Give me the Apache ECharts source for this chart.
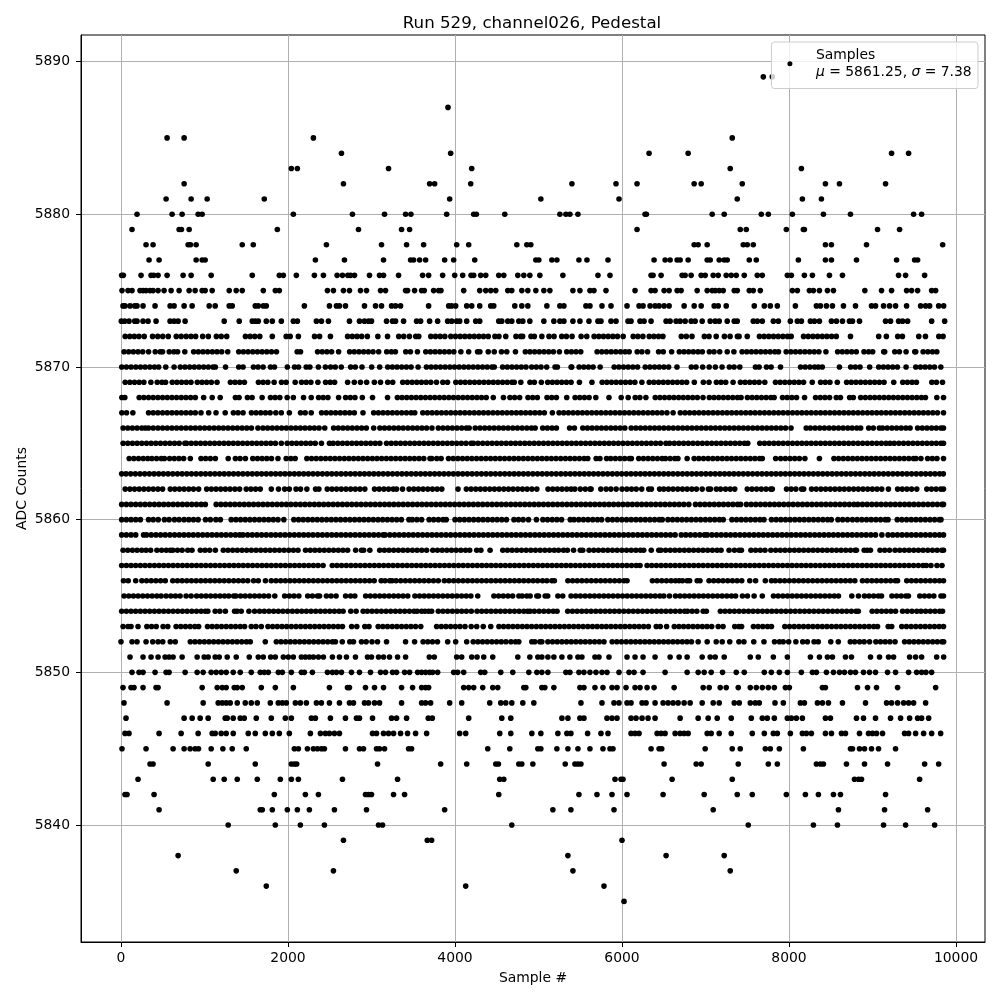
<!DOCTYPE html>
<html><head><meta charset="utf-8">
<style>html,body{margin:0;padding:0;background:#fff}#c{width:1000px;height:1000px}</style>
<script src="https://cdn.jsdelivr.net/npm/echarts@6/dist/echarts.min.js"></script>
</head><body><div id="c"></div>
<script>
const titleText = 'Run 529, channel026, Pedestal';
const xName = 'Sample #';
const yName = 'ADC Counts';
const seriesName = 'Samples';
const xTicks = [0,2000,4000,6000,8000,10000];
const yTicks = [5840,5850,5860,5870,5880,5890];

const y5889=[7692,7800];
const y5887=[3916];
const y5885=[552,756,2304,7320];
const y5884=[2640,3948,6324,6792,9228,9432];
const y5883=[2040,2112,3204,4200,7296,8148];
const y5882=[756,2664,3696,3756,4188,5400,5928,6180,6864,6948,7440,8436,8604,9156];
const y5881=[540,840,1032,1716,3936,5028,5964,7380,8160,8388];
const y5880=[192,612,732,924,972,2064,2772,3156,3408,3472,3900,4224,4256,4596,5256,5328,5376,5472,6276,6292,7080,7224,7668,7752,8040,8412,8736,9492,9588];
const y5879=[132,696,724,816,1872,2844,3360,3456,6180,7416,7488,7968,8172,8184,9060,9324];
const y5878=[300,384,804,832,900,1452,1584,2460,3120,3420,3624,4020,4164,4740,4860,4908,6864,6912,7020,7452,7500,7572,8436,8508,8928,9840];
const y5877=[336,456,900,972,1008,2328,2676,3144,3468,3504,3576,3648,3876,3984,4236,4968,5004,5160,5220,5484,5580,5832,6384,6516,6576,6660,6696,6792,7020,7056,7164,7224,7260,7524,7608,8112,8436,8508,8808,9288,9504,9540];
const y5876=[8,28,240,360,392,444,552,744,840,1080,1572,1896,1944,2100,2316,2424,2588,2652,2716,2748,2796,2976,3096,3144,3324,3612,3684,3852,3996,4092,4192,4224,4308,4368,4524,4584,4752,4824,4896,5016,5292,5712,5856,6348,6372,6468,6720,6756,6828,6948,6996,7092,7152,7248,7308,7368,7464,7620,7680,7980,8028,8184,8280,8484,8640,9312,9396,9624];
const y5875=[12,84,132,228,264,300,348,384,444,516,600,696,816,888,972,1008,1092,1296,1380,1452,1704,1848,1896,2472,2544,2664,2736,2868,2940,3108,3168,3408,3432,3516,3600,3632,3744,3804,3832,4104,4296,4368,4428,4488,4632,4680,4800,4872,4968,5064,5136,5412,5496,5616,5664,5808,6156,6348,6396,6504,6564,6660,6708,6900,7020,7080,7116,7164,7212,7344,7380,7524,7572,7656,8040,8100,8244,8292,8364,8460,8532,8908,9108,9228,9408,9468,9540,9708,9756];
const y5874=[24,48,108,164,192,264,408,588,636,756,852,1056,1128,1296,1332,1608,1644,1704,1740,2196,2496,2580,2616,2688,2916,3048,3120,3240,3288,3348,3684,3924,3960,4008,4140,4200,4296,4428,4464,4716,4800,4872,5100,5256,5304,5568,5616,5760,5868,6060,6204,6252,6336,6396,6444,6504,6564,6744,6864,6948,7104,7152,7248,7584,7704,7776,7860,8076,8328,8376,8448,8520,8652,8796,8988,9036,9132,9204,9276,9408,9576,9636,9684,9792,9852];
const y5873=[4,44,96,164,192,264,324,420,588,636,684,768,1236,1416,1572,1608,1644,1740,1812,1920,2064,2112,2340,2400,2484,2736,2856,2916,2964,3000,3180,3252,3288,3384,3540,3588,3696,3792,3912,3960,4020,4056,4140,4248,4296,4524,4560,4632,4680,4764,4812,4896,5064,5184,5256,5304,5412,5496,5604,5712,5748,5868,5928,6072,6108,6216,6264,6348,6528,6576,6648,6696,6756,6828,6876,6960,7056,7116,7164,7260,7344,7380,7572,7620,7680,7812,7872,8016,8100,8148,8256,8304,8364,8508,8568,8640,8724,8760,8844,9156,9216,9312,9360,9420,9708,9864];
const y5872=[50,105,160,215,278,378,440,500,566,662,720,780,838,894,978,1046,1142,1200,1266,1490,1546,1602,1662,1812,1978,2026,2124,2318,2378,2508,2714,2770,2826,2882,2950,3076,3192,3326,3386,3454,3530,3566,3710,3766,3822,3878,3950,4006,4062,4118,4174,4230,4286,4342,4398,4478,4526,4608,4730,4786,4810,4910,4950,5040,5126,5186,5278,5334,5402,5510,5578,5666,5722,5778,5834,5890,5946,6014,6134,6190,6250,6326,6382,6438,6490,6710,6770,6838,6986,7042,7128,7226,7294,7382,7402,7500,7646,7702,7758,7814,7870,7926,7982,8026,8174,8230,8286,8342,8398,8454,8510,8566,8736,9074,9166,9302,9358,9554,9634,9794,9845];
const y5871=[37,92,148,204,260,330,410,470,498,578,634,678,764,870,926,982,1038,1094,1150,1206,1278,1410,1466,1522,1578,1634,1690,1746,1802,1862,2110,2150,2354,2410,2466,2522,2606,2738,2794,2850,2906,2962,3018,3086,3182,3238,3286,3410,3466,3550,3650,3706,3762,3818,3874,3930,3986,4070,4164,4270,4298,4398,4470,4556,4620,4724,4842,4898,4954,5010,5066,5122,5178,5250,5338,5394,5450,5506,5702,5758,5814,5870,5926,5982,6038,6086,6182,6238,6306,6438,6494,6594,6686,6742,6798,6854,6910,6962,7046,7102,7170,7260,7340,7438,7494,7550,7606,7662,7718,7774,7830,7874,7966,8022,8078,8134,8190,8246,8302,8358,8442,8582,8638,8694,8750,8806,8898,8954,9002,9134,9146,9266,9322,9402,9506,9518,9606,9662,9718,9770];
const y5870=[9,65,121,177,233,289,345,401,451,536,636,710,766,822,878,934,990,1046,1102,1130,1252,1410,1462,1586,1642,1702,1790,1838,1992,2078,2126,2218,2262,2364,2448,2510,2566,2638,2750,2806,2886,3002,3098,3194,3250,3306,3362,3418,3474,3558,3658,3714,3770,3826,3882,3938,3994,4050,4106,4162,4218,4274,4330,4386,4442,4470,4570,4626,4682,4738,4794,4850,4918,4974,5030,5098,5198,5226,5390,5398,5486,5542,5598,5654,5738,5906,5962,6018,6074,6130,6186,6278,6334,6390,6446,6502,6558,6658,6830,6886,6966,7044,7118,7198,7286,7342,7410,7598,7642,7730,7786,7898,8138,8194,8250,8306,8350,8398,8604,8738,8794,8850,8966,9074,9130,9186,9242,9298,9402,9518,9574,9630,9686,9742,9818];
const y5869=[50,106,162,218,274,358,434,490,534,614,670,726,782,838,914,970,1026,1082,1150,1310,1366,1422,1478,1646,1702,1758,1834,1922,1978,2086,2162,2218,2274,2358,2450,2506,2558,2714,2794,2868,2942,3034,3108,3194,3254,3374,3430,3486,3542,3598,3654,3710,3778,3854,3910,4010,4066,4122,4178,4234,4290,4346,4402,4458,4514,4570,4626,4682,4710,4788,4898,4950,5034,5110,5166,5222,5278,5334,5390,5490,5640,5762,5818,5874,5930,5986,6042,6098,6154,6238,6326,6382,6438,6494,6550,6606,6662,6718,6774,6866,6974,7042,7130,7186,7242,7330,7418,7474,7530,7586,7642,7710,7838,7894,7950,8006,8062,8118,8174,8278,8378,8434,8490,8578,8690,8746,8802,8858,8914,8970,9026,9082,9138,9254,9362,9418,9474,9526,9710,9766,9838];
const y5868=[10,46,218,274,330,386,442,498,554,610,666,722,778,834,890,990,1092,1188,1370,1414,1514,1570,1690,1790,1846,1902,1990,2064,2186,2278,2366,2422,2478,2606,2690,2746,2802,2890,3012,3192,3310,3366,3422,3478,3534,3590,3646,3702,3758,3814,3870,3926,3982,4038,4094,4150,4206,4262,4318,4374,4458,4580,4658,4714,4774,4874,4930,4986,5102,5158,5214,5338,5438,5494,5550,5606,5686,5844,5990,6074,6158,6214,6286,6398,6454,6510,6566,6622,6678,6734,6790,6846,6902,6970,7046,7102,7158,7214,7270,7326,7382,7426,7502,7558,7614,7670,7726,7782,7822,7922,7978,8034,8090,8186,8318,8374,8430,8486,8566,8616,8726,8770,8858,8914,8970,9026,9082,9138,9194,9250,9306,9362,9418,9474,9530,9586,9634,9770,9850];
const y5867=[10,66,142,330,386,442,498,554,610,666,722,778,834,890,958,1050,1138,1248,1346,1402,1462,1562,1618,1674,1730,1786,1854,1920,2016,2150,2206,2278,2402,2458,2514,2570,2626,2682,2738,2794,2898,3026,3082,3138,3194,3250,3306,3362,3418,3474,3518,3614,3670,3726,3782,3838,3894,3950,4006,4062,4118,4174,4230,4286,4342,4398,4454,4510,4566,4622,4678,4734,4790,4846,4902,4958,5014,5070,5166,5246,5302,5358,5414,5470,5526,5582,5638,5694,5750,5806,5862,5918,5974,6030,6086,6142,6198,6254,6310,6366,6422,6478,6538,6612,6698,6754,6810,6866,6922,6978,7034,7090,7146,7202,7258,7314,7370,7426,7482,7538,7594,7650,7706,7762,7818,7874,7930,7986,8042,8098,8154,8210,8266,8322,8378,8434,8490,8546,8602,8658,8714,8770,8826,8882,8938,8994,9050,9106,9162,9218,9274,9330,9386,9442,9498,9554,9610,9666,9722,9778,9850];
const y5866=[25,81,137,193,249,290,330,386,442,498,554,610,666,722,778,834,890,946,1002,1058,1114,1170,1226,1282,1338,1394,1450,1506,1562,1640,1700,1756,1812,1868,1924,1980,2036,2092,2148,2204,2260,2316,2372,2440,2546,2602,2658,2714,2770,2826,2882,2938,3026,3100,3156,3212,3268,3324,3380,3436,3492,3548,3604,3660,3724,3800,3856,3912,3968,4024,4080,4136,4170,4242,4300,4356,4412,4468,4524,4580,4636,4692,4748,4804,4860,4916,4960,5050,5106,5162,5214,5372,5430,5530,5586,5642,5698,5754,5810,5866,5922,5978,6034,6110,6166,6222,6278,6334,6390,6446,6502,6558,6614,6670,6726,6782,6838,6894,6950,7006,7062,7118,7174,7230,7286,7342,7398,7454,7510,7566,7622,7678,7734,7790,7846,7902,7958,8024,8206,8256,8312,8368,8424,8480,8536,8592,8648,8704,8756,8812,8858,8954,9010,9082,9120,9176,9232,9288,9344,9400,9450,9540,9596,9652,9708,9764,9820,9850];
const y5865=[25,81,137,193,249,305,361,417,473,529,585,641,697,765,785,841,897,953,1009,1065,1121,1177,1233,1289,1345,1401,1457,1513,1569,1625,1681,1737,1793,1849,1920,1990,2046,2102,2158,2214,2270,2326,2400,2496,2541,2597,2653,2709,2765,2821,2877,2933,2989,3045,3100,3180,3236,3292,3348,3404,3460,3516,3572,3628,3684,3740,3796,3852,3908,3964,4020,4076,4132,4192,4220,4276,4332,4388,4444,4500,4556,4612,4668,4724,4780,4836,4892,4948,5004,5060,5116,5172,5228,5284,5340,5396,5452,5508,5564,5620,5676,5732,5788,5844,5900,5956,6012,6068,6124,6180,6236,6292,6348,6404,6460,6526,6570,6626,6682,6738,6794,6850,6906,6962,7018,7074,7130,7186,7242,7298,7354,7410,7466,7506,7650,7706,7762,7818,7874,7930,7986,8042,8098,8154,8210,8266,8322,8378,8434,8490,8546,8602,8658,8714,8770,8826,8882,8938,8994,9050,9106,9162,9210,9260,9316,9372,9428,9484,9540,9596,9652,9708,9764,9820,9850];
const y5864=[98,154,210,266,320,370,426,482,520,582,638,694,750,830,958,1014,1070,1130,1284,1370,1426,1490,1578,1634,1690,1746,1802,1880,1978,2034,2086,2226,2282,2338,2394,2450,2506,2562,2618,2674,2730,2786,2842,2898,2954,3010,3066,3122,3178,3234,3290,3346,3402,3458,3514,3570,3626,3700,3722,3782,3834,3922,3978,4034,4090,4146,4202,4258,4314,4370,4426,4482,4538,4594,4650,4706,4762,4818,4874,4930,4986,5042,5098,5154,5210,5266,5322,5378,5434,5490,5546,5590,5690,5736,5815,5864,5920,5976,6032,6088,6112,6200,6256,6312,6368,6424,6480,6520,6576,6632,6670,6780,6864,6920,6976,7032,7088,7144,7200,7256,7312,7368,7424,7480,7536,7592,7648,7680,7840,7900,7956,8012,8068,8124,8190,8364,8538,8594,8650,8706,8762,8818,8874,8930,8986,9042,9098,9154,9210,9266,9322,9378,9434,9490,9520,9580,9660,9716,9772,9850];
const y5863=[8,60,116,172,228,284,340,396,452,508,564,620,676,732,788,844,900,956,1012,1068,1124,1180,1236,1292,1348,1404,1460,1516,1572,1628,1684,1740,1796,1852,1908,1964,2020,2076,2132,2188,2244,2300,2356,2412,2468,2524,2580,2636,2692,2748,2804,2860,2916,2972,3028,3084,3140,3196,3252,3308,3364,3420,3476,3532,3588,3644,3700,3756,3812,3868,3924,3980,4036,4092,4148,4204,4260,4316,4372,4428,4484,4540,4596,4652,4708,4764,4820,4876,4932,4988,5044,5100,5156,5212,5268,5324,5380,5436,5492,5548,5604,5660,5716,5772,5828,5884,5940,5996,6052,6108,6164,6220,6276,6332,6388,6444,6500,6556,6612,6668,6724,6780,6836,6892,6948,7004,7060,7116,7172,7228,7284,7340,7396,7452,7508,7564,7620,7676,7732,7788,7844,7900,7956,8012,8068,8124,8180,8236,8292,8348,8404,8460,8516,8572,8628,8684,8740,8796,8852,8908,8964,9020,9076,9132,9188,9244,9300,9356,9412,9468,9524,9580,9636,9692,9748,9804,9848];
const y5862=[50,106,162,218,274,330,386,442,498,590,644,700,756,812,868,930,1026,1082,1138,1194,1250,1306,1364,1420,1500,1556,1612,1668,1800,1886,1960,2016,2096,2150,2226,2330,2370,2470,2526,2582,2638,2694,2750,2806,2862,2920,3036,3092,3148,3204,3260,3300,3372,3450,3506,3562,3618,3674,3730,3786,3842,4036,4136,4192,4248,4304,4360,4416,4472,4528,4584,4640,4696,4752,4808,4864,4920,4980,5114,5170,5226,5282,5338,5390,5434,5500,5560,5616,5630,5746,5810,5866,5930,6000,6058,6114,6170,6236,6320,6352,6450,6500,6556,6612,6668,6724,6780,6836,6892,6960,7034,7060,7130,7180,7240,7296,7350,7500,7556,7612,7668,7724,7780,7800,7970,8026,8082,8150,8176,8270,8326,8382,8438,8494,8550,8606,8662,8718,8774,8830,8886,8942,8998,9054,9110,9190,9300,9356,9412,9468,9530,9650,9706,9762,9818,9850];
const y5861=[8,64,120,176,232,288,344,400,456,512,568,624,680,736,792,848,904,960,1010,1140,1196,1252,1308,1364,1420,1476,1532,1588,1644,1700,1756,1812,1868,1924,1980,2036,2092,2148,2204,2260,2316,2372,2428,2484,2540,2596,2652,2708,2764,2820,2876,2932,2988,3044,3100,3156,3212,3268,3324,3380,3436,3492,3548,3604,3660,3716,3772,3828,3884,3940,3996,4052,4108,4164,4220,4276,4332,4388,4444,4500,4556,4612,4668,4724,4780,4836,4892,4948,5004,5060,5116,5172,5228,5284,5340,5396,5452,5508,5564,5620,5676,5732,5788,5844,5900,5956,6012,6068,6124,6180,6236,6292,6348,6404,6460,6516,6572,6628,6684,6740,6800,6880,6936,6992,7048,7104,7160,7216,7272,7328,7384,7420,7490,7546,7602,7658,7714,7770,7826,7882,7938,7994,8050,8106,8162,8218,8274,8330,8386,8442,8498,8554,8610,8666,8722,8778,8824,8880,8936,8992,9048,9104,9160,9216,9272,9328,9384,9440,9496,9552,9608,9664,9720,9776,9832,9850];
const y5860=[8,64,120,176,232,330,386,446,520,576,640,696,756,812,868,924,1012,1070,1136,1190,1320,1376,1432,1488,1544,1600,1656,1712,1768,1824,1880,1950,2070,2126,2182,2238,2294,2350,2406,2462,2518,2574,2630,2686,2742,2798,2854,2910,2966,3022,3078,3134,3190,3246,3302,3358,3448,3488,3544,3600,3690,3745,3801,3857,3895,4000,4056,4112,4168,4224,4280,4336,4392,4448,4504,4560,4616,4706,4760,4816,4880,4975,5052,5108,5164,5220,5276,5380,5426,5482,5538,5594,5650,5706,5756,5830,5886,5942,5998,6054,6110,6166,6222,6278,6334,6390,6446,6482,6550,6606,6662,6718,6774,6830,6886,6942,6998,7054,7110,7166,7212,7316,7372,7428,7484,7540,7596,7652,7700,7790,7846,7902,7958,8014,8070,8126,8182,8238,8294,8350,8406,8462,8506,8586,8642,8700,8760,8816,8872,8928,8984,9040,9096,9152,9186,9296,9352,9408,9464,9520,9576,9632,9688,9744,9800,9820];
const y5859=[8,64,120,176,270,306,362,418,474,530,586,642,698,754,810,866,922,978,1034,1090,1146,1202,1258,1314,1370,1420,1460,1516,1572,1628,1684,1740,1796,1852,1908,1964,2020,2076,2132,2188,2244,2300,2356,2412,2468,2524,2580,2636,2692,2748,2804,2860,2916,2972,3028,3084,3140,3164,3220,3276,3332,3388,3444,3500,3556,3612,3668,3724,3780,3836,3892,3948,4004,4060,4116,4172,4228,4284,4340,4396,4452,4508,4564,4620,4676,4732,4788,4844,4900,4956,5012,5068,5124,5180,5236,5292,5348,5404,5460,5516,5572,5628,5684,5740,5796,5852,5908,5964,6020,6076,6132,6188,6244,6300,6356,6412,6468,6524,6580,6636,6710,6764,6820,6876,6932,6988,7020,7076,7132,7188,7244,7300,7356,7412,7468,7524,7580,7636,7692,7748,7804,7860,7916,7972,8028,8084,8140,8196,8252,8308,8364,8420,8476,8532,8588,8644,8700,8756,8812,8868,8924,8980,9036,9112,9186,9242,9298,9354,9410,9466,9522,9578,9634,9690,9746,9802,9850];
const y5858=[25,81,137,193,249,300,355,430,486,542,590,620,676,732,800,850,950,1006,1062,1130,1225,1281,1337,1393,1449,1505,1561,1617,1673,1729,1785,1841,1897,1953,2009,2065,2120,2210,2266,2322,2378,2434,2490,2546,2602,2658,2714,2810,2880,2906,2980,3098,3154,3210,3266,3322,3378,3434,3490,3546,3602,3660,3734,3790,3846,3902,3958,4014,4070,4126,4176,4260,4310,4420,4572,4628,4684,4740,4796,4852,4908,4964,5020,5076,5132,5188,5240,5300,5346,5420,5500,5530,5606,5662,5718,5774,5830,5886,5942,5998,6054,6110,6166,6220,6260,6350,6440,6466,6522,6578,6634,6690,6746,6802,6858,6914,6970,7026,7082,7138,7186,7282,7346,7402,7430,7544,7600,7656,7712,7782,7840,7896,7952,8008,8064,8120,8176,8232,8288,8344,8400,8456,8512,8568,8624,8680,8736,8792,8808,8900,8936,8975,9090,9146,9204,9270,9326,9382,9438,9494,9550,9606,9662,9718,9774,9830,9850];
const y5857=[8,64,120,176,232,288,344,400,456,512,568,624,680,736,792,848,904,960,1016,1072,1128,1184,1240,1296,1352,1408,1464,1520,1576,1632,1688,1744,1800,1856,1912,1968,2024,2080,2136,2192,2248,2304,2360,2420,2530,2586,2642,2698,2754,2810,2866,2922,2978,3034,3090,3146,3202,3258,3314,3370,3426,3482,3538,3594,3650,3706,3762,3818,3874,3930,3986,4042,4098,4154,4210,4266,4322,4378,4434,4490,4546,4602,4658,4714,4770,4826,4882,4938,4994,5050,5106,5162,5218,5274,5330,5386,5442,5498,5554,5610,5666,5722,5778,5834,5890,5946,6002,6058,6114,6170,6216,6300,6356,6412,6468,6524,6580,6636,6692,6748,6804,6860,6916,6972,7028,7084,7140,7196,7252,7308,7364,7420,7476,7532,7588,7644,7700,7756,7812,7868,7924,7980,8036,8092,8148,8204,8260,8316,8372,8428,8484,8540,8596,8652,8708,8764,8820,8876,8932,8988,9044,9100,9156,9212,9268,9324,9380,9436,9492,9548,9604,9644,9700,9772,9832];
const y5856=[30,86,176,250,306,362,418,474,530,620,676,732,788,844,900,956,1012,1068,1124,1180,1236,1292,1350,1406,1462,1518,1588,1644,1730,1800,1856,1912,1968,2024,2080,2136,2192,2248,2304,2360,2416,2472,2528,2584,2640,2696,2752,2808,2864,2920,2976,3032,3116,3162,3218,3246,3294,3350,3406,3462,3518,3574,3630,3686,3742,3800,3872,3928,3984,4040,4096,4152,4208,4264,4320,4376,4432,4488,4544,4600,4656,4712,4768,4824,4880,4936,4990,5048,5100,5160,5190,5352,5408,5464,5520,5576,5632,5688,5744,5800,5856,5912,5968,6024,6060,6364,6420,6476,6532,6588,6640,6684,6724,6780,6810,6900,6934,7042,7098,7154,7210,7266,7322,7378,7434,7530,7600,7716,7790,7836,7892,7948,8004,8060,8116,8172,8228,8284,8340,8396,8452,8508,8564,8620,8676,8732,8788,8880,8936,8992,9048,9104,9160,9216,9272,9300,9410,9466,9522,9578,9634,9690,9746,9802,9850];
const y5855=[37,93,149,205,261,317,373,429,480,540,596,652,708,780,840,906,962,1018,1074,1130,1186,1240,1290,1350,1376,1432,1488,1544,1600,1656,1712,1768,1842,1960,2016,2072,2130,2236,2292,2352,2378,2460,2516,2576,2690,2750,2800,2930,2986,3042,3098,3154,3210,3266,3322,3378,3434,3520,3575,3631,3687,3743,3799,3855,3911,3967,4023,4079,4135,4190,4272,4466,4522,4578,4634,4690,4765,4804,4860,4900,4980,5000,5080,5110,5232,5290,5390,5446,5502,5558,5614,5670,5726,5782,5838,5894,5950,6006,6062,6118,6174,6230,6286,6342,6398,6454,6500,6568,6640,6695,6751,6807,6863,6919,6975,7031,7087,7143,7199,7255,7311,7360,7442,7502,7582,7680,7814,7870,7926,7982,8038,8094,8150,8206,8262,8318,8374,8430,8486,8542,8592,8752,8832,8904,8958,9014,9070,9108,9232,9288,9344,9400,9430,9566,9622,9678,9734,9820,9850];
const y5854=[8,64,120,176,232,288,344,400,456,512,568,624,680,736,792,848,904,960,1010,1040,1128,1184,1250,1360,1390,1440,1532,1600,1660,1716,1772,1828,1884,1940,1996,2052,2108,2164,2220,2276,2332,2388,2444,2500,2556,2612,2660,2752,2816,2900,2950,3006,3062,3118,3174,3230,3286,3342,3398,3454,3510,3546,3600,3640,3684,3720,3800,3856,3912,3968,4024,4080,4136,4195,4264,4320,4376,4432,4488,4544,4600,4656,4712,4768,4824,4870,4900,4950,5008,5064,5120,5176,5222,5350,5406,5462,5518,5574,5630,5686,5742,5798,5854,5910,5966,6022,6078,6134,6190,6246,6302,6358,6414,6470,6526,6582,6638,6694,6750,6784,6840,6896,6972,7010,7178,7234,7290,7346,7402,7458,7514,7570,7626,7682,7738,7794,7850,7906,7962,8018,8074,8130,8186,8242,8298,8354,8410,8466,8522,8578,8634,8690,8746,8802,8830,8996,9052,9108,9164,9220,9276,9360,9416,9472,9530,9580,9636,9692,9748,9804,9838];
const y5853=[25,84,120,204,310,366,422,504,560,660,716,772,828,884,930,1036,1092,1148,1204,1260,1316,1372,1428,1480,1560,1616,1680,1760,1816,1872,1928,1984,2040,2096,2152,2208,2264,2320,2376,2432,2488,2544,2600,2652,2762,2824,2920,2970,3080,3136,3192,3248,3304,3360,3416,3472,3528,3590,3780,3836,3892,3948,4004,4060,4120,4194,4260,4338,4428,4526,4582,4638,4694,4750,4806,4862,4918,4974,5030,5086,5142,5198,5254,5310,5366,5422,5478,5534,5590,5646,5702,5758,5812,5868,5924,5980,6036,6092,6148,6204,6260,6316,6410,6458,6534,6626,6682,6738,6794,6850,6906,6962,7018,7074,7152,7210,7350,7400,7432,7574,7630,7686,7742,7790,7950,8006,8062,8118,8174,8230,8286,8342,8398,8454,8510,8566,8622,8678,8734,8790,8846,8902,8958,9014,9060,9188,9230,9350,9406,9462,9518,9574,9630,9686,9742,9798,9850];
const y5852=[0,132,192,300,380,444,500,590,650,830,886,942,998,1054,1110,1166,1222,1278,1334,1390,1446,1502,1548,1728,1860,1916,1972,2028,2084,2140,2196,2252,2308,2364,2420,2476,2532,2568,2650,2740,2784,2880,2936,3006,3072,3180,3408,3516,3618,3674,3730,3790,3912,4008,4140,4218,4274,4330,4386,4442,4498,4554,4610,4670,4724,4764,4920,4956,5016,5040,5112,5168,5224,5280,5336,5392,5448,5504,5560,5616,5672,5728,5784,5882,5938,5994,6050,6106,6162,6218,6274,6330,6386,6442,6498,6554,6610,6666,6722,6778,6832,6912,7020,7128,7200,7290,7400,7460,7578,7700,7826,7886,7930,7996,8082,8164,8220,8300,8350,8500,8590,8734,8786,8846,8900,8965,9040,9096,9152,9208,9270,9384,9440,9496,9552,9608,9664,9720,9776,9832,9852];
const y5851=[108,264,360,444,528,576,624,732,912,996,1044,1128,1176,1272,1380,1536,1644,1704,1792,1848,1944,2004,2064,2160,2208,2256,2304,2364,2424,2532,2616,2700,2808,2952,3000,3084,3144,3216,3312,3408,3692,3752,4020,4080,4200,4264,4344,4452,4752,4896,4992,5040,5112,5184,5280,5376,5472,5520,5676,5724,5844,6060,6156,6252,6396,6576,6684,6780,6960,7056,7116,7224,7536,7632,7812,7980,8256,8364,8460,8520,8676,8748,8976,9084,9192,9252,9444,9516,9588,9768,9852];
const y5850=[132,216,264,408,540,576,768,912,984,1080,1140,1200,1260,1344,1428,1560,1668,1716,1764,1884,1932,2040,2160,2196,2292,2472,2532,2580,2640,2760,2856,2988,3108,3168,3252,3300,3396,3456,3552,3600,3648,3696,3732,3792,3984,4032,4104,4308,4356,4548,4692,4884,4980,5040,5112,5328,5376,5484,5544,5616,5688,5760,5820,5964,6084,6144,6252,6516,6780,6912,6984,7068,7204,7368,7464,7704,7788,7884,7980,8148,8280,8328,8448,8532,8604,8664,8736,8796,8892,8964,9036,9180,9276,9432,9528,9588,9640,9708];
const y5849=[24,120,156,264,420,444,972,1152,1212,1260,1356,1392,1452,1680,1848,2064,2496,2712,2736,2928,3036,3144,3360,3492,3600,3648,3684,4104,4164,4224,4332,4452,4512,4824,4848,5040,5076,5184,5496,5544,5676,5772,5880,5940,6048,6156,6216,6300,6384,6624,6972,7044,7176,7248,7392,7536,7608,7680,7752,7824,7956,8004,8400,8436,8820,8940,9048,9300,9756];
const y5848=[36,552,984,1164,1212,1260,1308,1392,1488,1560,1632,1788,1884,1932,1980,2088,2148,2220,2340,2400,2496,2616,2736,2784,2916,2964,3036,3096,3360,3600,3648,3708,3936,4080,4416,4548,4608,4680,4812,4944,5508,5760,5904,5964,6060,6108,6240,6288,6396,6492,6552,6612,6672,6744,6816,6960,7092,7164,7344,7404,7536,7596,7644,7832,7932,8136,8184,8340,8400,8472,8640,8916,9168,9228,9300,9372,9432,9492,9636];
const y5847=[60,756,852,948,1044,1248,1272,1344,1428,1476,1620,1800,1968,2040,2280,2328,2508,2688,2820,2856,3012,3240,3300,3420,3680,3728,4164,4560,4668,5280,5352,5496,5544,5820,5880,5940,6108,6168,6240,6312,6396,6696,6912,7032,7140,7308,7548,7680,7740,7824,7980,8028,8088,8160,8436,8496,8808,8892,9036,9216,9336,9444,9540,9588,9672];
const y5846=[48,96,456,720,924,1092,1128,1200,1260,1344,1524,1608,1728,1812,1896,2016,2268,2388,2448,2496,2556,2616,3012,3060,3144,3204,3264,3348,3432,3528,3660,4056,4128,4536,4668,4920,5028,5232,5340,5388,5588,5748,5832,6108,6156,6204,6420,6468,6516,6636,6696,6744,6792,7020,7068,7164,7308,7560,7704,7812,7860,8016,8160,8208,8268,8436,8508,8628,8676,8844,8952,9000,9048,9120,9384,9432,9516,9612,9708,9816];
const y5845=[12,300,624,756,828,888,928,1080,1220,1332,1500,2076,2124,2232,2304,2352,2400,2436,2688,2856,2904,3060,3096,3156,3444,3480,4392,4656,4992,5028,5220,5352,5472,5616,5772,5856,5892,6348,6444,6476,6996,7320,7416,7716,7776,7884,8172,8736,8760,8844,8904,8988,9072,9276];
const y5844=[348,384,1044,1608,2040,2076,2104,3072,3828,4140,4488,4520,4764,4800,4932,5320,5436,5472,5508,6504,6888,6948,7392,7752,7860,8328,8376,8412,8688,8904,9180,9624,9792];
const y5843=[204,1104,1236,1392,1632,1908,2040,2124,2652,3312,4536,4584,5916,5988,6012,6600,7320,8784,8832,8868,9564];
const y5842=[48,72,396,1836,2208,2364,2928,2964,3000,3264,3396,4524,5484,5700,5880,6060,6492,6984,7380,7560,7968,8196,8352,8532,8616,9156];
const y5841=[456,1668,1692,1812,1992,2112,2256,2556,2940,3876,5172,5388,5904,7092,8592,9144,9660];
const y5840=[1284,1848,2148,2436,3084,3132,4680,7512,8292,8580,9132,9396,9744];
const y5839=[2664,3668,3720,6000];
const y5838=[684,5352,6528,7224];
const y5837=[1380,2544,5412,7296];
const y5836=[1740,4128,5784];
const y5835=[6024];

const levels=[[5889,y5889],[5887,y5887],[5885,y5885],[5884,y5884],[5883,y5883],[5882,y5882],[5881,y5881],[5880,y5880],[5879,y5879],[5878,y5878],[5877,y5877],[5876,y5876],[5875,y5875],[5874,y5874],[5873,y5873],[5872,y5872],[5871,y5871],[5870,y5870],[5869,y5869],[5868,y5868],[5867,y5867],[5866,y5866],[5865,y5865],[5864,y5864],[5863,y5863],[5862,y5862],[5861,y5861],[5860,y5860],[5859,y5859],[5858,y5858],[5857,y5857],[5856,y5856],[5855,y5855],[5854,y5854],[5853,y5853],[5852,y5852],[5851,y5851],[5850,y5850],[5849,y5849],[5848,y5848],[5847,y5847],[5846,y5846],[5845,y5845],[5844,y5844],[5843,y5843],[5842,y5842],[5841,y5841],[5840,y5840],[5839,y5839],[5838,y5838],[5837,y5837],[5836,y5836],[5835,y5835]];
const points=[];
levels.forEach(([lv,xs])=>xs.forEach(x=>points.push([x,lv])));

const font='DejaVu Sans';
const chart=echarts.init(document.getElementById('c'),null,{renderer:'canvas'});
const axisBase={
  type:'value',nameLocation:'middle',nameMoveOverlap:false,
  nameTextStyle:{fontFamily:font,fontSize:13.9,color:'#000'},
  axisLine:{show:true,onZero:false,lineStyle:{color:'#000',width:1}},
  splitLine:{show:true,lineStyle:{color:'#b0b0b0',width:1}},
};
chart.setOption({
  animation:false,backgroundColor:'#fff',
  title:{text:titleText,left:527,top:10,textAlign:'center',textStyle:{fontFamily:font,fontSize:16.67,fontWeight:'normal',color:'#000'}},
  grid:{left:81,right:15,top:35,bottom:58,show:true,borderColor:'#000',borderWidth:1,backgroundColor:'transparent'},
  xAxis:Object.assign({},axisBase,{name:xName,nameGap:29,min:-479,max:10347,
    axisTick:{show:true,inside:false,length:5,lineStyle:{color:'#000',width:1},customValues:xTicks},
    axisLabel:{fontFamily:font,fontSize:13.9,color:'#000',margin:9,customValues:xTicks,formatter:v=>String(v),showMinLabel:true,showMaxLabel:true}}),
  yAxis:Object.assign({},axisBase,{name:yName,nameGap:52,min:5832.34,max:5891.74,
    axisTick:{show:true,inside:false,length:5,lineStyle:{color:'#000',width:1},customValues:yTicks},
    axisLabel:{fontFamily:font,fontSize:13.9,color:'#000',margin:11,customValues:yTicks,formatter:v=>String(v)}}),
  legend:{show:true,right:22,top:42,orient:'vertical',padding:[6,6.3,9,16],itemWidth:26,itemHeight:5,
    backgroundColor:'rgba(255,255,255,0.8)',borderColor:'#cccccc',borderWidth:1,borderRadius:3,
    data:[{name:seriesName,icon:'circle'}],
    formatter:()=>'{t0|Samples}\n{i0|μ}{t| = 5861.25, }{i|σ}{t| = 7.38}',
    textStyle:{rich:{
      t0:{fontFamily:font,fontSize:13.9,color:'#000',lineHeight:17.5,padding:[0,0,0,8]},
      i0:{fontFamily:font,fontSize:13.9,fontStyle:'italic',color:'#000',lineHeight:17.5,padding:[0,0,0,8]},
      t:{fontFamily:font,fontSize:13.9,color:'#000',lineHeight:17.5},
      i:{fontFamily:font,fontSize:13.9,fontStyle:'italic',color:'#000',lineHeight:17.5}
    }}},
  series:[{name:seriesName,type:'scatter',data:points,symbol:'circle',symbolSize:5.6,itemStyle:{color:'#000',opacity:1},silent:true}]
});
</script></body></html>
